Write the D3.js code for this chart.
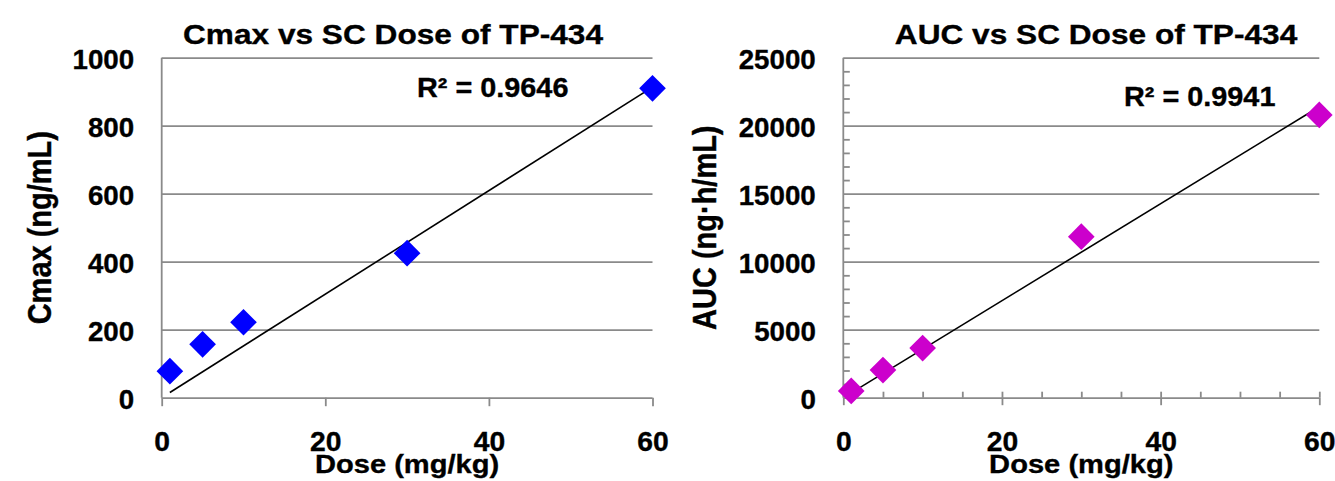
<!DOCTYPE html>
<html>
<head>
<meta charset="utf-8">
<script src="https://cdn.jsdelivr.net/npm/d3@7"></script>
<style>
  body { margin: 0; background: #fff; }
  svg text { font-family: "Liberation Sans", Arial, sans-serif; font-weight: bold; fill: #000; stroke: #000; stroke-width: 0.35; }
  .tick line, .grid line, .axisline { stroke: #8a8a8a; stroke-width: 1.8; }
</style>
</head>
<body>
<svg id="chart" width="1335" height="481"></svg>
<script>
var doses = [1, 5, 10, 30, 60];
var cmaxValues = [78, 157, 222, 425, 910];
var aucValues = [500, 2030, 3650, 11840, 20790];
var xTicks = [0, 20, 40, 60];
var cmaxTicks = [0, 200, 400, 600, 800, 1000];
var aucTicks = [0, 5000, 10000, 15000, 20000, 25000];
var titles = ['Cmax vs SC Dose of TP-434', 'AUC vs SC Dose of TP-434'];
var yTitles = ['Cmax (ng/mL)', 'AUC (ng\u00b7h/mL)'];
var xTitle = 'Dose (mg/kg)';
var r2Labels = ['R\u00b2 = 0.9646', 'R\u00b2 = 0.9941'];

var svg = d3.select('#chart');

//Layout of the two panels, in page pixels
var panels = [
    { values: cmaxValues, yTicks: cmaxTicks, color: '#0000ff', left: 161.7, right: 652.5,
      title: titles[0], titleX: 393, yTitle: yTitles[0], yTitleX: 51,
      r2: r2Labels[0], r2X: 417, r2Y: 96.7, minor: false },
    { values: aucValues, yTicks: aucTicks, color: '#cc00cc', left: 843.3, right: 1319.3,
      title: titles[1], titleX: 1096, yTitle: yTitles[1], yTitleX: 716,
      r2: r2Labels[1], r2X: 1124, r2Y: 105.7, minor: true }
];
var plotTop = 57.7, plotBottom = 397.7;

panels.forEach(function(p) {
    var yMax = p.yTicks[p.yTicks.length - 1];
    var x = d3.scaleLinear().domain([0, 60]).range([p.left, p.right]);
    var y = d3.scaleLinear().domain([0, yMax]).range([plotBottom, plotTop]);
    var g = svg.append('g');

    //Horizontal gridlines, with the outward tick on the left
    g.append('g')
        .attr('class', 'grid')
        .attr('transform', 'translate(' + p.left + ',0)')
        .call(d3.axisLeft(y).tickValues(p.yTicks).tickSize(8).tickFormat(''))
        .call(function(s) { s.select('.domain').remove(); })
        .selectAll('.tick line')
        .attr('x2', p.right - p.left);

    //Y labels
    var yAxis = g.append('g')
        .attr('transform', 'translate(' + p.left + ',0)')
        .call(d3.axisLeft(y).tickValues(p.yTicks).tickSize(0).tickFormat(d3.format('d')));
    yAxis.select('.domain').remove();
    yAxis.selectAll('text')
        .attr('x', 0).attr('dy', '0.38em')
        .attr('font-size', 28)
        .attr('transform', 'translate(-27.5,0) scale(0.99,1)');
    yAxis.attr('font-family', null).attr('font-size', null);

    //Vertical axis line
    g.append('line')
        .attr('class', 'axisline')
        .attr('x1', p.left).attr('x2', p.left)
        .attr('y1', y(yMax)).attr('y2', y(0));

    //X ticks and labels
    var xAxis = g.append('g')
        .attr('transform', 'translate(0,' + plotBottom + ')')
        .call(d3.axisBottom(x).tickValues(xTicks).tickSize(p.minor ? 7.5 : 8.5));
    xAxis.select('.domain').remove();
    xAxis.selectAll('text')
        .attr('y', 0).attr('dy', 0)
        .attr('font-size', 28)
        .attr('transform', 'translate(0,52.8) scale(1.01,1)');
    xAxis.attr('font-family', null).attr('font-size', null);

    if (p.minor) {
        //Inside minor ticks on both axes
        g.append('g')
            .attr('transform', 'translate(0,' + plotBottom + ')')
            .call(d3.axisTop(x).tickValues(d3.range(5, 61, 5)).tickSize(6).tickFormat(''))
            .select('.domain').remove();
        g.append('g')
            .attr('transform', 'translate(' + p.left + ',0)')
            .call(d3.axisRight(y).tickValues(d3.range(1000, yMax, 1000).filter(function(v) { return v % 5000; }))
                .tickSize(6.5).tickFormat(''))
            .select('.domain').remove();
    }

    //Linear trend line forced through the origin (as the spreadsheet did)
    var sxy = d3.sum(doses, function(d, i) { return d * p.values[i]; });
    var sxx = d3.sum(doses, function(d) { return d * d; });
    var slope = sxy / sxx;
    var ext = d3.extent(doses);
    g.append('line')
        .attr('x1', x(ext[0])).attr('y1', y(slope * ext[0]))
        .attr('x2', x(ext[1])).attr('y2', y(slope * ext[1]))
        .attr('stroke', '#000').attr('stroke-width', 1.6);

    //Diamond markers
    var diamond = d3.symbol().type(d3.symbolSquare).size(356);
    g.selectAll('.pt')
        .data(doses)
        .enter()
        .append('path')
        .attr('class', 'pt')
        .attr('d', diamond)
        .attr('fill', p.color)
        .attr('transform', function(d, i) { return 'translate(' + x(d) + ',' + y(p.values[i]) + ') rotate(45)'; });

    //Texts
    g.append('text')
        .attr('text-anchor', 'middle').attr('font-size', 28)
        .attr('transform', 'translate(' + p.titleX + ',44) scale(1.13,1)')
        .text(p.title);
    g.append('text')
        .attr('text-anchor', 'middle').attr('font-size', 26)
        .attr('transform', 'translate(' + ((p.left + p.right) / 2) + ',472.5) scale(1.12,1)')
        .text(xTitle);
    g.append('text')
        .attr('text-anchor', 'middle').attr('font-size', 29)
        .attr('transform', 'translate(' + p.yTitleX + ',' + ((plotTop + plotBottom) / 2) + ') rotate(-90) scale(1,1.12)')
        .text(p.yTitle);
    g.append('text')
        .attr('font-size', 28)
        .attr('transform', 'translate(' + p.r2X + ',' + (p.r2Y + 0.5) + ') scale(1.03,1)')
        .text(p.r2);
});
</script>
</body>
</html>
